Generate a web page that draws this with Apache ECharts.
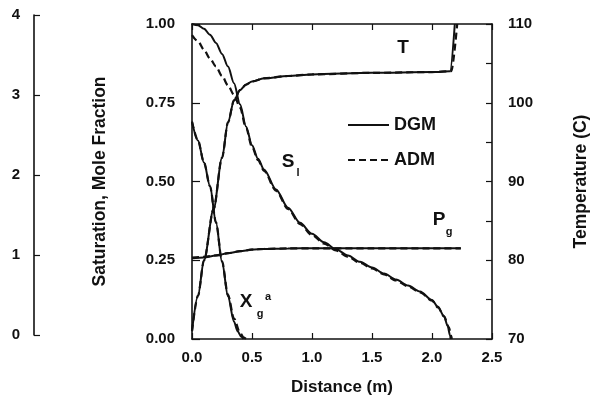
<!DOCTYPE html>
<html><head><meta charset="utf-8">
<script src="https://cdn.jsdelivr.net/npm/echarts@6/dist/echarts.min.js"></script>
<style>html,body{margin:0;padding:0;background:#fff}#c{width:592px;height:407px}</style>
</head><body><div id="c"></div>
<script>
// ---- data ----
const slDist   = [0, 0.05, 0.1, 0.15, 0.2, 0.25, 0.3, 0.35, 0.4, 0.45, 0.5, 0.55, 0.6, 0.7, 0.8, 0.9, 1.0, 1.1, 1.2, 1.3, 1.4, 1.5, 1.6, 1.7, 1.8, 1.9, 2.0, 2.05, 2.1, 2.13, 2.15, 2.155];
const slDGM    = [1.0, 0.996, 0.985, 0.966, 0.94, 0.905, 0.865, 0.812, 0.745, 0.675, 0.615, 0.572, 0.538, 0.475, 0.417, 0.369, 0.334, 0.307, 0.285, 0.265, 0.245, 0.227, 0.208, 0.189, 0.17, 0.151, 0.124, 0.102, 0.072, 0.042, 0.012, 0.0];
const slDistA  = [0, 0.05, 0.1, 0.15, 0.2, 0.25, 0.3, 0.35, 0.4, 0.45, 0.5, 0.55, 0.6, 0.7, 0.8, 0.9, 1.0, 1.1, 1.2, 1.3, 1.4, 1.5, 1.6, 1.7, 1.8, 1.9, 2.0, 2.05, 2.1, 2.14, 2.16, 2.165];
const slADM    = [0.965, 0.945, 0.918, 0.89, 0.865, 0.835, 0.805, 0.775, 0.735, 0.67, 0.61, 0.568, 0.534, 0.471, 0.413, 0.365, 0.33, 0.303, 0.281, 0.261, 0.242, 0.224, 0.205, 0.186, 0.167, 0.148, 0.122, 0.1, 0.072, 0.038, 0.01, 0.0];

const xgDist   = [0, 0.05, 0.1, 0.15, 0.2, 0.25, 0.3, 0.35, 0.38, 0.41, 0.43];
const xgDGM    = [0.69, 0.63, 0.56, 0.485, 0.37, 0.245, 0.135, 0.055, 0.025, 0.007, 0.0];
const xgDistA  = [0, 0.05, 0.1, 0.15, 0.2, 0.25, 0.3, 0.35, 0.4, 0.43, 0.45];
const xgADM    = [0.69, 0.63, 0.56, 0.485, 0.37, 0.247, 0.14, 0.065, 0.02, 0.005, 0.0];

const pgDist   = [0, 0.1, 0.2, 0.3, 0.4, 0.5, 0.6, 0.8, 1.0, 1.5, 2.0, 2.24];
const pgDGM    = [1.024, 1.036, 1.06, 1.09, 1.115, 1.135, 1.144, 1.15, 1.152, 1.152, 1.152, 1.152];
const pgADM    = [1.034, 1.042, 1.062, 1.09, 1.115, 1.135, 1.144, 1.15, 1.152, 1.152, 1.152, 1.152];

const tDist    = [0, 0.05, 0.1, 0.18, 0.25, 0.3, 0.35, 0.4, 0.45, 0.5, 0.6, 0.8, 1.0, 1.5, 2.0, 2.15, 2.19];
const tDGM     = [71.0, 75.5, 80.0, 86.5, 93.0, 97.5, 100.3, 101.6, 102.3, 102.7, 103.1, 103.4, 103.6, 103.8, 103.9, 104.0, 110];
const tDistA   = [0, 0.05, 0.1, 0.18, 0.25, 0.3, 0.35, 0.4, 0.45, 0.5, 0.6, 0.8, 1.0, 1.5, 2.0, 2.16, 2.21];
const tADM     = [71.0, 75.5, 80.0, 86.5, 93.0, 97.5, 100.3, 101.6, 102.3, 102.7, 103.1, 103.4, 103.6, 103.8, 103.9, 104.0, 110];

const pairs = (xs, ys) => xs.map((x, i) => [x, ys[i]]);

const FONT = "'Liberation Sans', Arial, sans-serif";
const INK = '#111';
const lbl = (size) => ({ color: INK, fontFamily: FONT, fontWeight: 'bold', fontSize: size });
const axLine = { show: true, onZero: false, lineStyle: { color: INK, width: 1.6 } };

const solid = { color: INK, width: 2, type: 'solid' };
const dashed = { color: INK, width: 2.2, type: [7, 4] };
function ser(name, xs, ys, yIdx, style) {
  return {
    name, type: 'line', xAxisIndex: 0, yAxisIndex: yIdx,
    data: pairs(xs, ys), symbol: 'none', showSymbol: false,
    smooth: 0.3, smoothMonotone: 'x',
    lineStyle: style, itemStyle: { color: INK }, z: style === solid ? 3 : 4
  };
}

const chart = echarts.init(document.getElementById('c'), null, { renderer: 'canvas' });
chart.setOption({
  animation: false,
  backgroundColor: '#fff',
  grid: [
    { left: 192, top: 24, width: 300, height: 315, outerBoundsMode: 'none', containLabel: false },
    { left: 34, top: 15, width: 10, height: 320, outerBoundsMode: 'none', containLabel: false }
  ],
  legend: {
    data: ['DGM', 'ADM'], orient: 'vertical', left: 342, top: 111,
    itemWidth: 41, itemHeight: 14, itemGap: 17,
    itemStyle: { opacity: 0 },
    textStyle: lbl(18), selectedMode: false
  },
  xAxis: [
    { gridIndex: 0, type: 'value', min: 0, max: 2.5, interval: 0.5, position: 'bottom',
      axisLine: axLine, axisTick: { inside: true, length: 6, lineStyle: { color: INK, width: 1.2 } },
      axisLabel: Object.assign(lbl(15), { margin: 11, formatter: v => v.toFixed(1) }),
      splitLine: { show: false },
      name: 'Distance (m)', nameLocation: 'middle', nameGap: 40, nameTextStyle: lbl(17) },
    { gridIndex: 0, type: 'value', min: 0, max: 2.5, interval: 0.5, position: 'top',
      axisLine: axLine, axisTick: { inside: true, length: 6, lineStyle: { color: INK, width: 1.2 } },
      axisLabel: { show: false }, splitLine: { show: false } },
    { gridIndex: 1, type: 'value', min: 0, max: 1, show: false }
  ],
  yAxis: [
    { gridIndex: 0, type: 'value', min: 0, max: 1, interval: 0.25, position: 'left',
      axisLine: axLine, axisTick: { inside: true, length: 8, lineStyle: { color: INK, width: 1.2 } },
      axisLabel: Object.assign(lbl(15), { margin: 17, formatter: v => v.toFixed(2) }),
      splitLine: { show: false },
      name: 'Saturation, Mole Fraction', nameLocation: 'middle', nameRotate: 90, nameGap: 83, nameTextStyle: lbl(17.5) },
    { gridIndex: 0, type: 'value', min: 70, max: 110, interval: 10, position: 'right',
      axisLine: axLine, axisTick: { inside: true, length: 6, lineStyle: { color: INK, width: 1.2 } },
      minorTick: { show: true, splitNumber: 2, length: 6, lineStyle: { color: INK, width: 1.2 } },
      axisLabel: Object.assign(lbl(15), { margin: 16 }),
      splitLine: { show: false }, minorSplitLine: { show: false },
      name: 'Temperature (C)', nameLocation: 'middle', nameRotate: 90, nameGap: 80, nameTextStyle: lbl(17.5) },
    { gridIndex: 0, type: 'value', min: 0, max: 4, show: false },
    { gridIndex: 1, type: 'value', min: 0, max: 4, interval: 1, position: 'left',
      axisLine: axLine, axisTick: { inside: true, length: 6, lineStyle: { color: INK, width: 1.2 } },
      axisLabel: Object.assign(lbl(15), { margin: 14 }),
      splitLine: { show: false } }
  ],
  series: [
    ser('DGM', slDist, slDGM, 0, solid),
    ser('ADM', slDistA, slADM, 0, dashed),
    ser('DGM', xgDist, xgDGM, 0, solid),
    ser('ADM', xgDistA, xgADM, 0, dashed),
    ser('DGM', pgDist, pgDGM, 2, solid),
    ser('ADM', pgDist, pgADM, 2, dashed),
    ser('DGM', tDist, tDGM, 1, solid),
    ser('ADM', tDistA, tADM, 1, dashed)
  ],
  graphic: [
    { type: 'text', x: 403, y: 48, style: { text: 'T', font: "bold 19px 'Liberation Sans', Arial", fill: INK, align: 'center', verticalAlign: 'middle' } },
    { type: 'text', x: 288, y: 162, style: { text: 'S', font: "bold 19px 'Liberation Sans', Arial", fill: INK, align: 'center', verticalAlign: 'middle' } },
    { type: 'text', x: 298, y: 173, style: { text: 'l', font: "bold 11px 'Liberation Sans', Arial", fill: INK, align: 'center', verticalAlign: 'middle' } },
    { type: 'text', x: 439, y: 220, style: { text: 'P', font: "bold 19px 'Liberation Sans', Arial", fill: INK, align: 'center', verticalAlign: 'middle' } },
    { type: 'text', x: 449, y: 232, style: { text: 'g', font: "bold 11px 'Liberation Sans', Arial", fill: INK, align: 'center', verticalAlign: 'middle' } },
    { type: 'text', x: 246, y: 302, style: { text: 'X', font: "bold 19px 'Liberation Sans', Arial", fill: INK, align: 'center', verticalAlign: 'middle' } },
    { type: 'text', x: 260, y: 314, style: { text: 'g', font: "bold 11px 'Liberation Sans', Arial", fill: INK, align: 'center', verticalAlign: 'middle' } },
    { type: 'text', x: 268, y: 297, style: { text: 'a', font: "bold 11px 'Liberation Sans', Arial", fill: INK, align: 'center', verticalAlign: 'middle' } }
  ]
});
</script>
</body></html>
